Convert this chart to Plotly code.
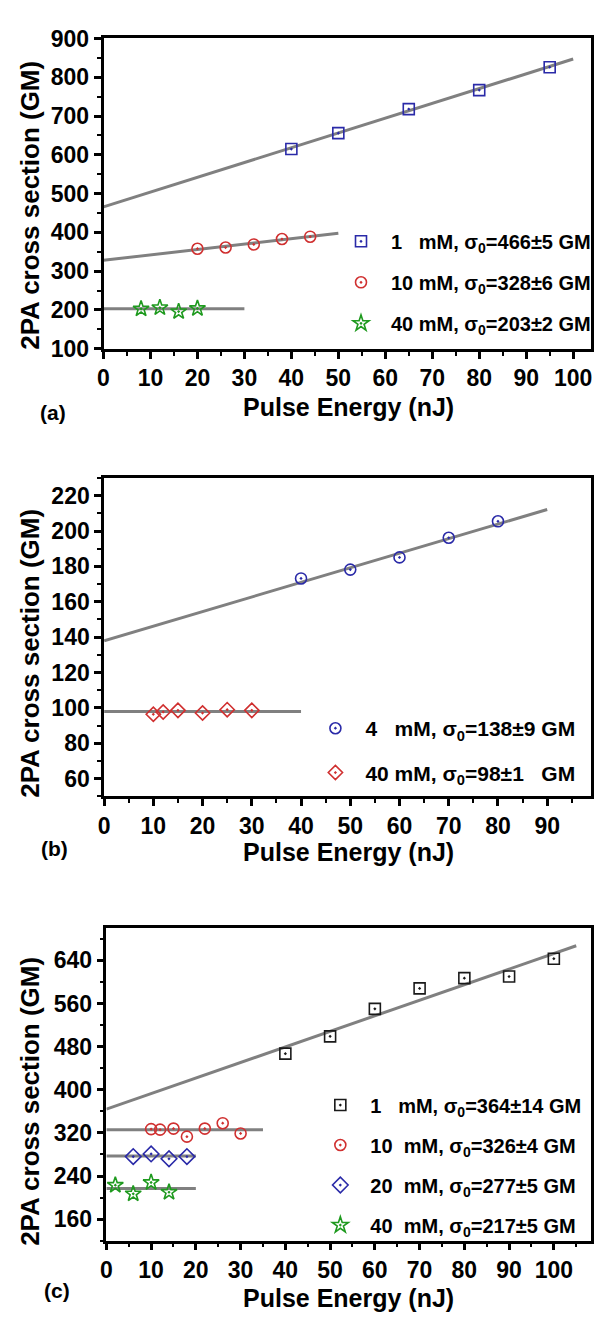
import plotly.graph_objects as go

W, H = 596, 1325
FONT = "Liberation Sans"

# ---------------- data ----------------
# Panel (a)
a1_x = [40, 50, 65, 80, 95]
a1_y = [615, 656, 718, 767, 826]
a2_x = [20, 26, 32, 38, 44]
a2_y = [358, 361, 369, 383, 389]
a3_x = [8, 12, 16, 20]
a3_y = [203, 206, 196, 204]
a1_fit_x = [0, 100]
a1_fit_y = [466, 847]
a2_fit_x = [0, 50]
a2_fit_y = [328, 398]
a3_fit_x = [0, 30]
a3_fit_y = [203, 203]
a_names = ["1\u00a0\u00a0\u00a0mM, \u03c3<sub>0</sub>=466\u00b15 GM",
           "10\u00a0mM, \u03c3<sub>0</sub>=328\u00b16 GM",
           "40\u00a0mM, \u03c3<sub>0</sub>=203\u00b12 GM"]

# Panel (b)
b1_x = [40, 50, 60, 70, 80]
b1_y = [173.2, 178.2, 185.1, 196.2, 205.5]
b2_x = [10, 12, 15, 20, 25, 30]
b2_y = [96.4, 97.7, 98.6, 97.1, 99.0, 98.6]
b1_fit_x = [0, 90]
b1_fit_y = [138, 212.2]
b2_fit_x = [0, 40]
b2_fit_y = [98, 98]
b_names = ["4\u00a0\u00a0\u00a0mM, \u03c3<sub>0</sub>=138\u00b19 GM",
           "40\u00a0mM, \u03c3<sub>0</sub>=98\u00b11\u00a0\u00a0\u00a0GM"]

# Panel (c)
c1_x = [40, 50, 60, 70, 80, 90, 100]
c1_y = [467, 499, 550, 588, 607, 610, 643]
c2_x = [10, 12, 15, 18, 22, 26, 30]
c2_y = [327, 326, 328, 313, 328, 338, 319]
c3_x = [6, 10, 14, 18]
c3_y = [276, 281, 272, 276]
c4_x = [2, 6, 10, 14]
c4_y = [223, 207, 228, 210]
c1_fit_x = [0, 105]
c1_fit_y = [364, 667]
c2_fit_x = [0, 35]
c2_fit_y = [326, 326]
c3_fit_x = [0, 20]
c3_fit_y = [277, 277]
c4_fit_x = [0, 20]
c4_fit_y = [217, 217]
c_names = ["1\u00a0\u00a0\u00a0mM, \u03c3<sub>0</sub>=364\u00b114 GM",
           "10\u00a0\u00a0mM, \u03c3<sub>0</sub>=326\u00b14 GM",
           "20\u00a0\u00a0mM, \u03c3<sub>0</sub>=277\u00b15 GM",
           "40\u00a0\u00a0mM, \u03c3<sub>0</sub>=217\u00b15 GM"]

x_title = "Pulse Energy (nJ)"
y_title = "2PA cross section (GM)"
panel_labels = ["(a)", "(b)", "(c)"]

# ---------------- styles ----------------
BLUE = "#2a2aa8"
RED = "#d03030"
GREEN = "#1f9a1f"
BLACK = "#1a1a1a"
GRAY = "#808080"


def xd(px):
    return px / W


def yd(py):
    return 1 - py / H


fig = go.Figure()


def fit(xs, ys, ax):
    fig.add_trace(go.Scatter(x=xs, y=ys, mode="lines", xaxis="x" + ax, yaxis="y" + ax,
                             line=dict(color=GRAY, width=3), showlegend=False,
                             hoverinfo="skip"))


def pts(xs, ys, ax, name, symbol, color, legend, size=11, group=None):
    fig.add_trace(go.Scatter(x=xs, y=ys, mode="markers", xaxis="x" + ax, yaxis="y" + ax,
                             name=name, legend=legend, legendgroup=group,
                             marker=dict(symbol=symbol, size=size, color=color,
                                         line=dict(color=color, width=1.6))))


# panel a  (axis suffix "")
fit(a1_fit_x, a1_fit_y, "")
fit(a2_fit_x, a2_fit_y, "")
fit(a3_fit_x, a3_fit_y, "")
pts(a1_x, a1_y, "", a_names[0], "square-open-dot", BLUE, "legend", group="a1")
pts(a2_x, a2_y, "", a_names[1], "circle-open-dot", RED, "legend", group="a2")
pts(a3_x, a3_y, "", a_names[2], "star-open-dot", GREEN, "legend", size=12, group="a3")

# panel b
fit(b1_fit_x, b1_fit_y, "2")
fit(b2_fit_x, b2_fit_y, "2")
pts(b1_x, b1_y, "2", b_names[0], "circle-open-dot", BLUE, "legend2", group="b1")
pts(b2_x, b2_y, "2", b_names[1], "diamond-open-dot", RED, "legend2", group="b2")

# panel c
fit(c1_fit_x, c1_fit_y, "3")
fit(c2_fit_x, c2_fit_y, "3")
fit(c3_fit_x, c3_fit_y, "3")
fit(c4_fit_x, c4_fit_y, "3")
pts(c1_x, c1_y, "3", c_names[0], "square-open-dot", BLACK, "legend3", group="c1")
pts(c2_x, c2_y, "3", c_names[1], "circle-open-dot", RED, "legend3", group="c2")
pts(c3_x, c3_y, "3", c_names[2], "diamond-open-dot", BLUE, "legend3", size=12, group="c3")
pts(c4_x, c4_y, "3", c_names[3], "star-open-dot", GREEN, "legend3", size=12, group="c4")

tickfont = dict(family=FONT, size=23, color="black", weight="bold")


def xaxis(domain, rng, anchor):
    return dict(domain=domain, range=rng, anchor=anchor, showline=True, linewidth=2.5,
                linecolor="black", mirror=True, ticks="outside", ticklen=7, tickwidth=2.5,
                tickcolor="black", tick0=0, dtick=10, showgrid=False, zeroline=False,
                tickfont=tickfont,
                minor=dict(ticks="outside", dtick=5, tick0=0, ticklen=4, tickwidth=2,
                           tickcolor="black", showgrid=False))


def yaxis(domain, rng, anchor, dtick, mdtick):
    return dict(domain=domain, range=rng, anchor=anchor, showline=True, linewidth=2.5,
                linecolor="black", mirror=True, ticks="outside", ticklen=7, tickwidth=2.5,
                tickcolor="black", tick0=0, dtick=dtick, showgrid=False, zeroline=False,
                tickfont=tickfont,
                minor=dict(ticks="outside", dtick=mdtick, tick0=0, ticklen=4, tickwidth=2,
                           tickcolor="black", showgrid=False))


legfont = dict(family=FONT, size=20, color="black", weight="bold")

fig.update_layout(
    width=W, height=H, margin=dict(l=0, r=0, t=0, b=0),
    paper_bgcolor="white", plot_bgcolor="white",
    xaxis=xaxis([xd(99), xd(593.5)], [0, 103.7], "y"),
    yaxis=yaxis([yd(342.5), yd(26)], [100, 900], "x", 100, 50),
    xaxis2=xaxis([xd(99.6), xd(593.5)], [0, 98.8], "y2"),
    yaxis2=yaxis([yd(799), yd(474.3)], [50, 230], "x2", 20, 10),
    xaxis3=xaxis([xd(101.9), xd(593.5)], [0, 108.2], "y3"),
    yaxis3=yaxis([yd(1252.3), yd(933.3)], [120, 700], "x3", 80, 40),
    legend=dict(x=xd(330), y=yd(213), xanchor="left", yanchor="top", font=legfont,
                bgcolor="rgba(0,0,0,0)", itemwidth=50, tracegroupgap=12),
    legend2=dict(x=xd(304), y=yd(709), xanchor="left", yanchor="top",
                 font=dict(family=FONT, size=21, color="black", weight="bold"),
                 bgcolor="rgba(0,0,0,0)", itemwidth=50, tracegroupgap=14),
    legend3=dict(x=xd(309), y=yd(1094), xanchor="left", yanchor="top", font=legfont,
                 bgcolor="rgba(0,0,0,0)", itemwidth=50, tracegroupgap=11),
)

anns = []
# x titles
for cy in (402, 856, 1311):
    anns.append(dict(x=xd(348), y=yd(cy), xref="paper", yref="paper", text="<b>%s</b>" % x_title,
                     showarrow=False, xanchor="center", yanchor="middle",
                     font=dict(family=FONT, size=25, color="black")))
# y titles
for cy in (196, 653, 1110):
    anns.append(dict(x=xd(25), y=yd(cy), xref="paper", yref="paper", text="<b>%s</b>" % y_title,
                     showarrow=False, xanchor="center", yanchor="middle", textangle=-90,
                     font=dict(family=FONT, size=26, color="black")))
# panel labels
for lab, (cx, cy) in zip(panel_labels, [(48, 407), (49, 852), (52, 1303)]):
    anns.append(dict(x=xd(cx), y=yd(cy), xref="paper", yref="paper", text="<b>%s</b>" % lab,
                     showarrow=False, xanchor="center", yanchor="middle",
                     font=dict(family=FONT, size=21, color="black")))
fig.update_layout(annotations=anns)

fig.write_html("out.html", config={"displayModeBar": False},
               post_script="document.body.style.margin='0px';"
                           "document.body.style.overflow='hidden';")
